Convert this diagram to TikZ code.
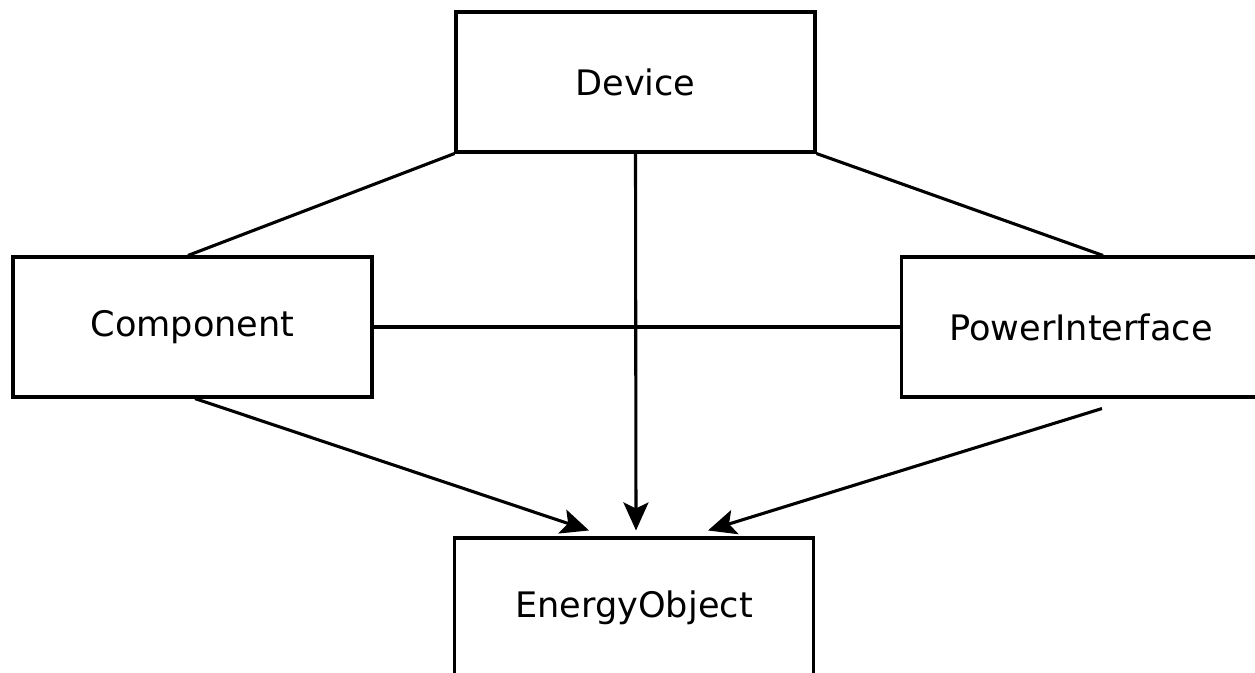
\documentclass[tikz,border=0pt]{standalone}
\usepackage{fontspec}
\setmainfont{DejaVu Sans}
\usetikzlibrary{arrows.meta}

\begin{document}
\begin{tikzpicture}[x=0.02cm,y=-0.02cm,
  box/.style={draw,line width=0.062cm,minimum width=7.18cm,minimum height=2.8cm,
    inner sep=0pt,font=\fontsize{20}{24}\selectfont},
  link/.style={line width=0.062cm},
  arr/.style={line width=0.062cm,-{Stealth[length=0.56cm,width=0.5cm,inset=0.12cm]}}]
\useasboundingbox (0,0) rectangle (1255,673);
\clip (0,0) rectangle (1255,673);

\node[box] (device) at (635.5,82) {Device};
\node[box] (comp) at (192.5,327) {Component};
\node[box] (power) at (1081,327) {PowerInterface};
\node[box] (energy) at (634,608) {EnergyObject};

\draw[link] (device.south west) -- ([xshift=-0.09cm]comp.north);
\draw[link] (device.south east) -- ([xshift=0.44cm]power.north);
\draw[link] (comp.east) -- (power.west);

\draw[arr] (device.south) -- ([xshift=0.04cm,yshift=0.12cm]energy.north);
\draw[arr] ([xshift=0.05cm]comp.south) -- ([xshift=-0.9cm,yshift=0.12cm]energy.north);
\draw[arr] ([xshift=0.42cm,yshift=-0.2cm]power.south) -- ([xshift=1.48cm,yshift=0.12cm]energy.north);
\end{tikzpicture}
\end{document}
